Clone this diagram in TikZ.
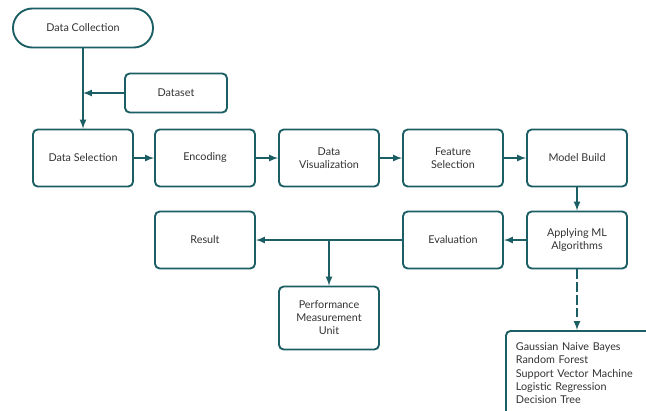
\documentclass[tikz,border=0pt]{standalone}
\usepackage{fontspec}
\setmainfont{Lato}
\definecolor{teal}{HTML}{1B5E63}
\definecolor{txt}{HTML}{333333}
\begin{document}
\begin{tikzpicture}[>=latex, x=0.03cm, y=-0.03cm,
    box/.style={draw=teal, line width=1.6pt, rounded corners=4pt, align=center,
        minimum width=3cm, minimum height=1.71cm, text=txt, font=\fontsize{9.2}{11}\selectfont},
    pill/.style={box, rounded corners=0.58cm, minimum width=4.2cm, minimum height=1.17cm},
    link/.style={->, draw=teal, line width=1.6pt}]
\clip (0,0) rectangle (646,410);
\fill[white] (0,0) rectangle (646,410);
\node[pill] (coll) at (83,28) {Data Collection};
\node[box, minimum width=3.06cm, minimum height=1.17cm] (dset) at (176,93) {Dataset};

\node[box] (sel) at (83,158) {Data Selection};
\node[box] (enc) at (205,158) {Encoding};
\node[box] (vis) at (329,158) {Data\\Visualization};
\node[box] (feat) at (453,158) {Feature\\Selection};
\node[box] (build) at (577,158) {Model Build};

\node[box] (ml) at (577,240) {Applying ML\\Algorithms};
\node[box] (eval) at (453,240) {Evaluation};
\node[box] (res) at (205,240) {Result};
\node[box, minimum height=1.89cm] (pmu) at (329,318) {Performance\\Measurement\\Unit};
\node[box, anchor=north west, align=left, text width=4.6cm,
    inner xsep=0.3cm, inner ysep=0.35cm, text depth=2.3cm, font=\fontsize{9.2}{11.4}\selectfont] (algo) at (505,330)
    {Gaussian Naive Bayes\\Random Forest\\Support Vector Machine\\Logistic Regression\\Decision Tree};

\draw[link] (coll.south) -- (sel.north);
\coordinate (join) at (coll.south |- dset.west);
\draw[link] (dset.west) -- (join);
\draw[link] (sel) -- (enc);
\draw[link] (enc) -- (vis);
\draw[link] (vis) -- (feat);
\draw[link] (feat) -- (build);
\draw[link] (build) -- (ml);
\draw[link] (ml) -- (eval);
\draw[link] (eval.west) -- (res.east);
\coordinate (split) at (pmu.north |- res.east);
\draw[link] (split) -- (pmu.north);
\draw[link, dash pattern=on 8pt off 3pt] (ml.south) -- (algo.north -| ml.south);

\end{tikzpicture}
\end{document}
